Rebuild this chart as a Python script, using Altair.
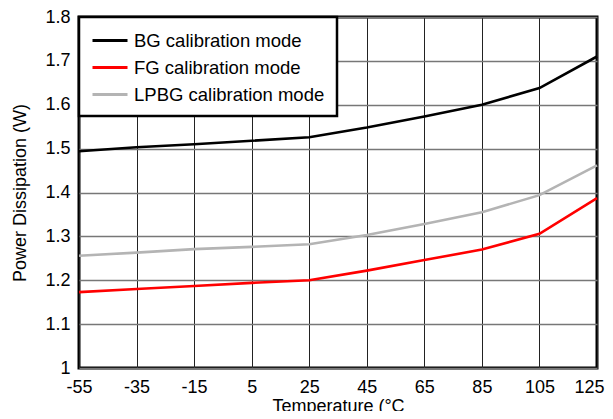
import altair as alt
import pandas as pd

temps = [-55, -35, -15, 5, 25, 45, 65, 85, 105, 125]
bg = [1.494, 1.503, 1.510, 1.518, 1.526, 1.548, 1.573, 1.600, 1.638, 1.710]
fg = [1.173, 1.180, 1.187, 1.194, 1.200, 1.222, 1.246, 1.270, 1.306, 1.387]
lpbg = [1.256, 1.263, 1.271, 1.276, 1.282, 1.303, 1.328, 1.355, 1.394, 1.462]
series = ["BG calibration mode", "FG calibration mode", "LPBG calibration mode"]
colors = ["#000000", "#ff0000", "#b4b4b4"]
x_ticks = temps
y_ticks = [1.0, 1.1, 1.2, 1.3, 1.4, 1.5, 1.6, 1.7, 1.8]

rows = []
for name, vals in zip(series, [bg, fg, lpbg]):
    for t, v in zip(temps, vals):
        rows.append({"Temperature": t, "Power": v, "Series": name})
df = pd.DataFrame(rows)

FONT = "Liberation Sans"

chart = alt.Chart(df).mark_line(strokeWidth=2.6).encode(
    x=alt.X("Temperature:Q",
            scale=alt.Scale(domain=[-55, 125], nice=False, zero=False),
            axis=alt.Axis(values=x_ticks, title="Temperature (°C",
                          labelExpr="datum.value",
                          labelOffset={"condition": {"test": "datum.value == 125", "value": -8}, "value": 0},
                          grid=True, gridColor="#222222", gridWidth=1,
                          ticks=False, domain=False, labelPadding=10,
                          labelFontSize=18, titleFontSize=18, titleFontWeight="normal",
                          labelColor="#000", titleColor="#000", titlePadding=1,
                          labelFont=FONT, titleFont=FONT, labelFlush=False)),
    y=alt.Y("Power:Q",
            scale=alt.Scale(domain=[1.0, 1.8], nice=False, zero=False),
            axis=alt.Axis(values=y_ticks, title="Power Dissipation (W)",
                          labelExpr="format(datum.value, '.1~f')",
                          grid=True, gridColor="#777777", gridWidth=1.5,
                          ticks=False, domain=False, labelPadding=9,
                          labelFontSize=18, titleFontSize=18, titleFontWeight="normal",
                          labelColor="#000", titleColor="#000", titlePadding=15,
                          labelFont=FONT, titleFont=FONT)),
    color=alt.Color("Series:N",
                    scale=alt.Scale(domain=series, range=colors),
                    legend=alt.Legend(title=None, orient="none", legendX=0, legendY=0,
                                      symbolType="M-1,0H2.5", symbolStrokeWidth=3,
                                      symbolSize=400, labelFontSize=18.5, labelFont=FONT,
                                      labelColor="#000", fillColor="white",
                                      strokeColor="black", padding=12, rowPadding=6,
                                      labelOffset=20, labelLimit=400, offset=0)),
).properties(
    width=518, height=351,
    padding={"left": 71, "top": 9, "right": 8, "bottom": 43},
    autosize=alt.AutoSizeParams(type="none"),
).configure_view(
    stroke="black", strokeWidth=3
).configure_legend(
    strokeWidth=2.5
)

chart.save("out.html", embed_options={"renderer": "svg", "actions": False})
